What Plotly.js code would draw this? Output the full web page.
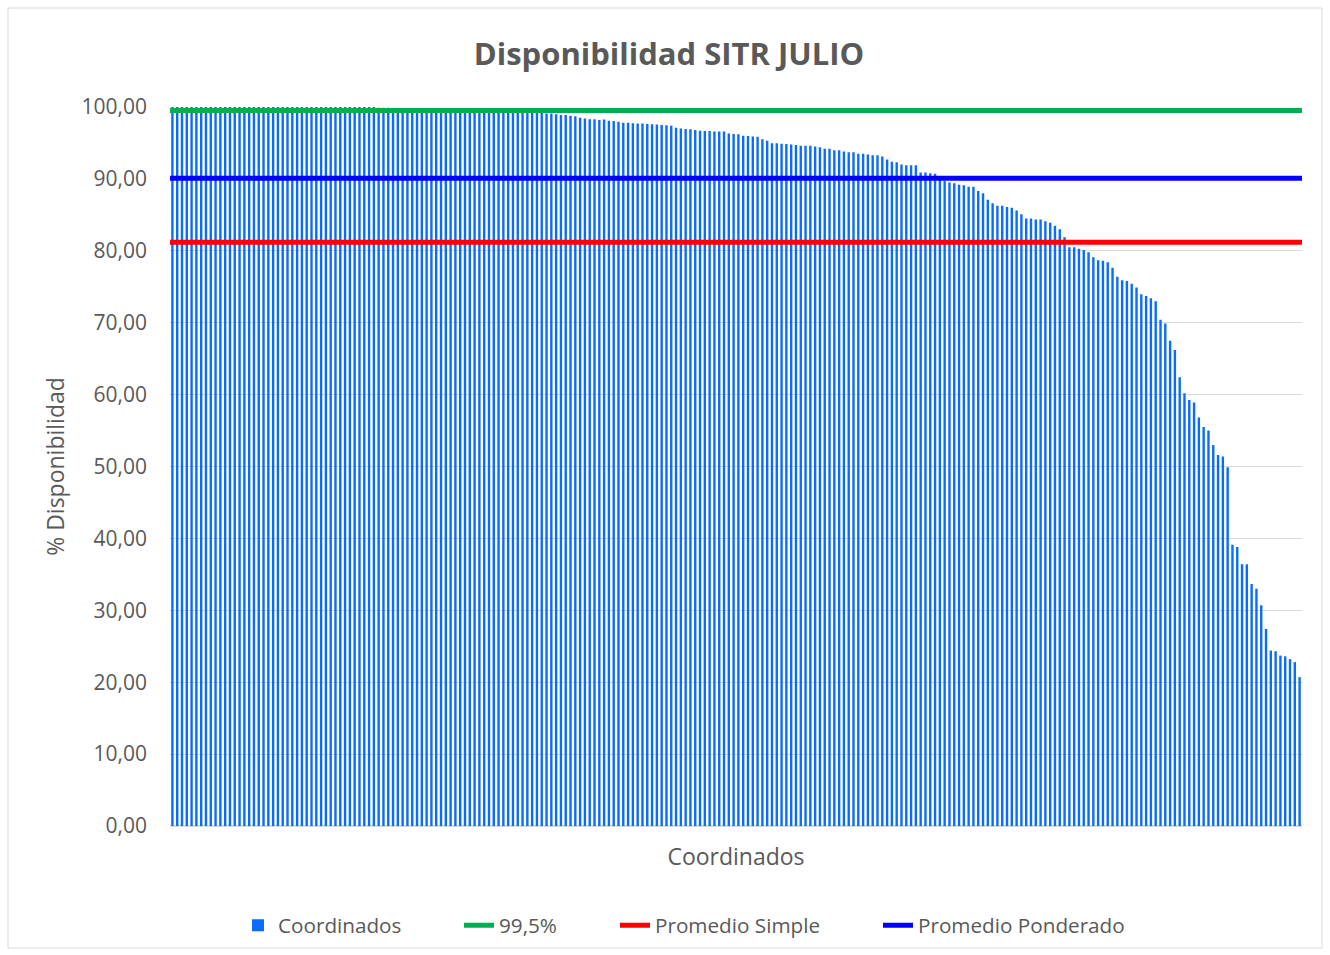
<!DOCTYPE html>
<html>
<head>
<meta charset="utf-8">
<script src="https://cdn.plot.ly/plotly-3.0.1.min.js"></script>
<style>
html,body{margin:0;padding:0;background:#fff;}
#chart{width:1330px;height:955px;}
</style>
</head>
<body>
<div id="chart"></div>
<script>
// Disponibilidad (%) per coordinado, sorted descending
const disponibilidad = [
  100,100,100,100,100,100,100,100,100,100,
  100,100,100,100,100,100,100,100,100,100,
  100,100,100,100,100,100,100,100,100,100,
  100,100,100,100,100,100,100,100,100,100,
  100,100,100,
  99.9,99.9,99.9,99.8,99.8,99.8,99.8,99.7,99.7,99.7,
  99.7,99.7,99.6,99.6,99.6,99.6,99.6,99.5,99.5,99.5,
  99.5,99.5,99.4,99.4,99.4,99.4,99.4,99.3,99.3,99.3,
  99.3,99.3,99.2,99.2,99.2,99.1,99.1,99.0,
  98.9,98.9,98.8,98.7,98.5,98.4,98.3,98.3,98.2,98.25,
  98.1,98.05,97.96,97.8,97.8,97.75,97.7,97.7,97.65,97.6,
  97.55,97.5,97.45,97.4,97.1,97.0,96.95,96.9,96.8,96.7,
  96.65,96.65,96.6,96.6,96.6,96.3,96.25,96.2,96.0,95.95,
  95.9,95.85,95.5,95.3,94.95,94.95,
  94.9,94.85,94.8,94.7,94.6,94.6,94.6,94.5,94.4,94.2,
  94.2,94.0,94.0,93.8,93.7,93.7,93.5,93.5,93.4,93.3,
  93.3,93.1,92.7,92.4,92.3,92.0,91.9,91.9,91.9,90.9,
  90.9,90.8,90.7,90.0,89.7,89.5,89.4,89.2,89.1,88.9,
  88.9,88.3,
  88.0,87.1,86.6,86.25,86.25,86.1,86.0,85.6,85.1,84.5,
  84.5,84.35,84.35,84.1,83.9,83.5,83.0,81.9,80.5,80.5,
  80.3,80.1,79.8,79.1,78.7,
  78.6,78.4,77.65,76.4,75.9,75.8,75.4,74.9,73.95,73.7,
  73.4,73.0,70.4,69.9,67.5,66.2,62.4,60.2,59.25,58.9,
  56.8,55.5,55.0,53.0,51.6,51.4,49.9,
  39.1,38.8,36.4,36.4,33.65,33.0,30.7,27.4,24.4,24.3,
  23.7,23.6,23.2,22.8,20.7
];
const coordinados = disponibilidad.map((v, i) => i + 1);

const meta995 = 99.5;
const promedioSimple = 81.2;
const promedioPonderado = 90.1;

const yTicks = [0,10,20,30,40,50,60,70,80,90,100];

const FONT = "'Open Sans', 'Noto Sans', sans-serif";
const GREY = "#595959";

const xSpan = [0.5, coordinados.length + 0.5];

const traces = [
  {
    type: "bar",
    name: "Coordinados",
    x: coordinados,
    y: disponibilidad,
    marker: {color: "#0a6bff", line: {width: 0}},
    hoverinfo: "y",
    legend: "legend"
  },
  {
    type: "scatter", mode: "lines", name: "99,5%",
    x: xSpan, y: [meta995, meta995],
    line: {color: "#00b050", width: 5},
    legend: "legend2"
  },
  {
    type: "scatter", mode: "lines", name: "Promedio Simple",
    x: xSpan, y: [promedioSimple, promedioSimple],
    line: {color: "#ff0000", width: 5},
    legend: "legend3"
  },
  {
    type: "scatter", mode: "lines", name: "Promedio Ponderado",
    x: xSpan, y: [promedioPonderado, promedioPonderado],
    line: {color: "#0000ff", width: 5},
    legend: "legend4"
  }
];

function legendAt(textStartPx) {
  return {
    orientation: "h",
    x: (textStartPx - 40 - 170) / 1132, xanchor: "left",
    y: -0.138, yanchor: "middle",
    font: {family: FONT, size: 20.7, color: GREY},
    bgcolor: "rgba(0,0,0,0)",
    borderwidth: 0
  };
}

const layout = {
  width: 1330, height: 955,
  margin: {l: 170, r: 28, t: 107, b: 129, pad: 0, autoexpand: false},
  paper_bgcolor: "#ffffff",
  plot_bgcolor: "#ffffff",
  separators: ",.",
  font: {family: FONT, color: GREY, size: 20},
  title: {
    text: "<b>Disponibilidad SITR JULIO</b>",
    font: {family: FONT, size: 31, color: GREY},
    x: 0.503, xanchor: "center",
    y: 1 - 54/955, yanchor: "middle", yref: "container"
  },
  bargap: 0.5,
  showlegend: true,
  legend: legendAt(278),
  legend2: legendAt(499),
  legend3: legendAt(655),
  legend4: legendAt(918),
  xaxis: {
    range: xSpan,
    showticklabels: false,
    ticks: "",
    showgrid: false,
    zeroline: false,
    showline: false,
    title: {text: "Coordinados", font: {family: FONT, size: 23, color: GREY}, standoff: 22}
  },
  yaxis: {
    range: [0, 100],
    tickvals: yTicks,
    tickformat: ".2f",
    tickfont: {family: FONT, size: 21, color: GREY},
    ticks: "",
    ticklabelstandoff: 22,
    showgrid: true,
    gridcolor: "#d9d9d9",
    gridwidth: 1,
    zeroline: true,
    zerolinecolor: "#d9d9d9",
    zerolinewidth: 2,
    showline: false,
    title: {text: "% Disponibilidad", font: {family: FONT, size: 23, color: GREY}, standoff: 10}
  },
  shapes: [
    {
      type: "rect", xref: "paper", yref: "paper",
      x0: (8-170)/1132, x1: (1322-170)/1132,
      y0: (826-948)/719, y1: (826-8)/719,
      line: {color: "#d9d9d9", width: 1},
      fillcolor: "rgba(0,0,0,0)",
      layer: "below"
    }
  ]
};

Plotly.newPlot("chart", traces, layout, {displayModeBar: false, staticPlot: true});
</script>
</body>
</html>
